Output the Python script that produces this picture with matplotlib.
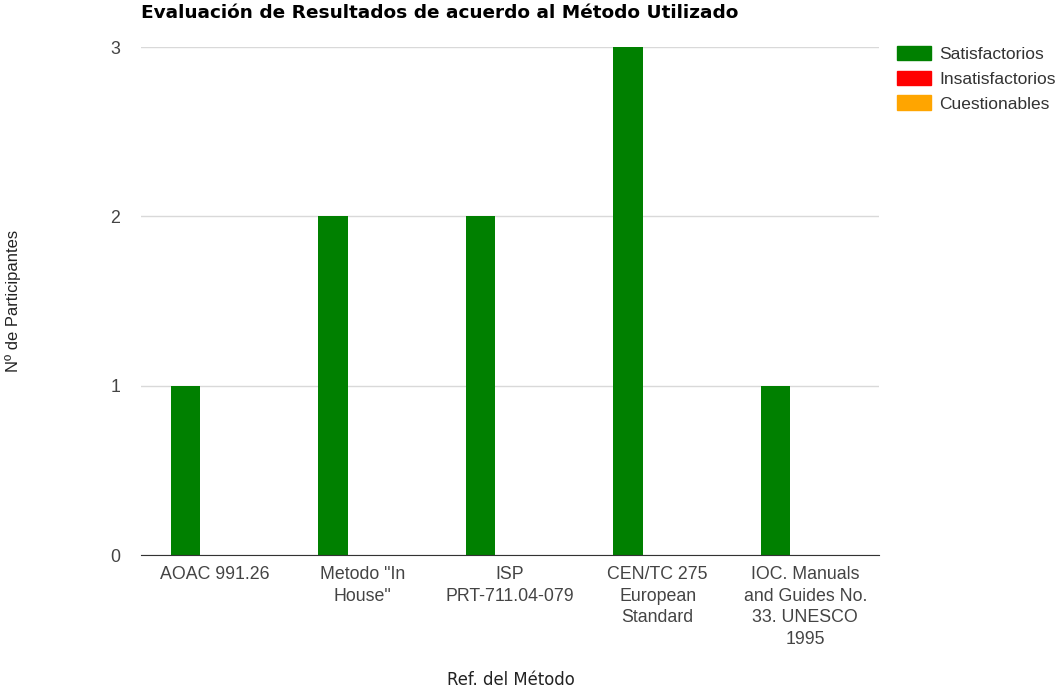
import matplotlib.pyplot as plt
import numpy as np
from matplotlib.patches import Patch

categories = [
    "AOAC 991.26",
    'Metodo "In\nHouse"',
    "ISP\nPRT-711.04-079",
    "CEN/TC 275\nEuropean\nStandard",
    "IOC. Manuals\nand Guides No.\n33. UNESCO\n1995",
]
series_names = ["Satisfactorios", "Insatisfactorios", "Cuestionables"]
satisfactorios = [1, 2, 2, 3, 1]
insatisfactorios = [0, 0, 0, 0, 0]
cuestionables = [0, 0, 0, 0, 0]
colors = ["#008000", "#ff0000", "#ffa500"]

W, H = 1057, 690
fig = plt.figure(figsize=(W / 100, H / 100), dpi=100)
ax = fig.add_axes([141 / W, 1 - 555 / H, (879 - 141) / W, (555 - 47) / H])

x = np.arange(len(categories))
bw = 0.2
for i, (vals, col) in enumerate(zip([satisfactorios, insatisfactorios, cuestionables], colors)):
    ax.bar(x + (i - 1) * bw, vals, width=bw, color=col, zorder=2)

ax.set_xlim(-0.5, len(categories) - 0.5)
ax.set_ylim(0, 3)
ax.set_yticks([0, 1, 2, 3])
ax.yaxis.grid(True, color="#d9d9d9", lw=1, zorder=0)
ax.set_axisbelow(True)
for s in ["top", "right", "left"]:
    ax.spines[s].set_visible(False)
ax.spines["bottom"].set_color("#333333")
ax.tick_params(axis="both", length=0, labelcolor="#444444", labelsize=12.8)
ax.tick_params(axis="y", pad=15)
ax.tick_params(axis="x", pad=8)
ax.set_xticks(x)
ax.set_xticklabels(categories, family="Liberation Sans", linespacing=1.35)
for lbl in ax.get_yticklabels():
    lbl.set_family("Liberation Sans")

fig.text(141 / W, 1 - 13 / H, "Evaluación de Resultados de acuerdo al Método Utilizado",
         fontsize=13.3, fontweight="bold", family="DejaVu Sans", va="center", ha="left")
fig.text(511 / W, 1 - 680 / H, "Ref. del Método", fontsize=11.9, family="DejaVu Sans",
         color="#222222", ha="center", va="center")
fig.text(13 / W, 1 - 301 / H, "Nº de Participantes", fontsize=11.9, family="Liberation Sans",
         color="#222222", rotation=90, ha="center", va="center")

handles = [Patch(facecolor=c, edgecolor=c) for c in colors]
leg = fig.legend(handles, series_names, loc="upper left", bbox_to_anchor=(881 / W, 1 - 30 / H),
                 frameon=False, handlelength=2.0, handleheight=0.9, handletextpad=0.45,
                 labelspacing=0.5, prop={"family": "Liberation Sans", "size": 12.5})
for t in leg.get_texts():
    t.set_color("#333333")

fig.savefig("out.png", dpi=100)
